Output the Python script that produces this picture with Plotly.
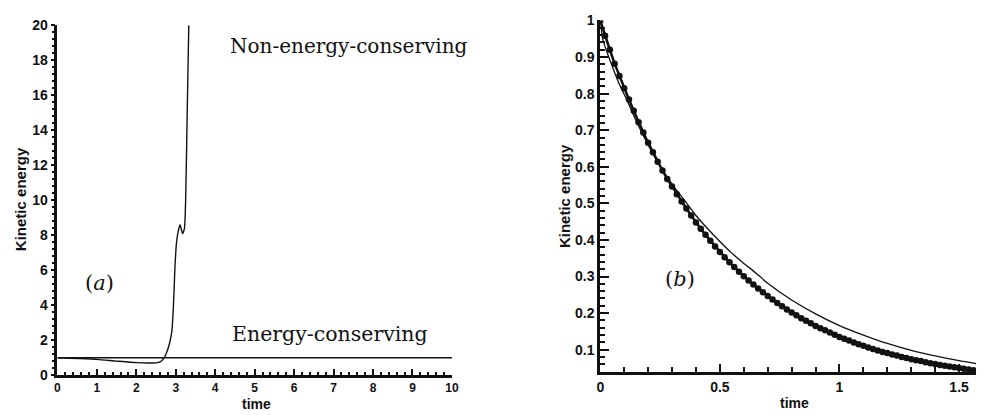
import plotly.graph_objects as go

# ---------------- panel (a): long-time kinetic energy ----------------
t_cons = [0.0, 10.0]
ke_cons = [1.0, 1.0]

t_noncons = [0.0, 0.5, 1.0, 1.5, 2.0, 2.3, 2.5, 2.6, 2.65, 2.7, 2.75, 2.8,
             2.85, 2.9, 2.94, 2.98, 3.02, 3.06, 3.11, 3.17, 3.22, 3.25,
             3.29, 3.33]
ke_noncons = [1.0, 0.96, 0.91, 0.81, 0.72, 0.70, 0.71, 0.76, 0.85, 0.98,
              1.2, 1.5, 1.9, 2.5, 3.9, 6.2, 7.6, 8.2, 8.6, 8.1, 8.4, 10.0,
              15.0, 20.0]

# ---------------- panel (b): decay of kinetic energy ----------------
t_ref = [0.0, 0.01, 0.03, 0.05, 0.08, 0.11, 0.15, 0.2, 0.25, 0.3, 0.35,
         0.4, 0.45, 0.5, 0.55, 0.6, 0.65, 0.7, 0.8, 0.9, 1.0, 1.1, 1.2,
         1.3, 1.4, 1.5, 1.5708]
ke_ref = [1.0, 0.95, 0.91, 0.875, 0.825, 0.785, 0.725, 0.66, 0.602, 0.553,
          0.51, 0.467, 0.43, 0.396, 0.364, 0.336, 0.31, 0.282, 0.236, 0.198,
          0.166, 0.14, 0.117, 0.098, 0.083, 0.07, 0.062]

t_sim = [round(0.02 * i, 2) for i in range(79)]
ke_sim = [1.000, 0.958, 0.920, 0.882, 0.848, 0.815, 0.784, 0.753, 0.722,
          0.694, 0.666, 0.640, 0.614, 0.590, 0.567, 0.546, 0.525, 0.505,
          0.486, 0.467, 0.448, 0.431, 0.414, 0.398, 0.382, 0.367, 0.353,
          0.339, 0.326, 0.313, 0.301, 0.289, 0.278, 0.267, 0.257, 0.247,
          0.237, 0.228, 0.219, 0.210, 0.202, 0.194, 0.186, 0.179, 0.172,
          0.165, 0.159, 0.153, 0.147, 0.141, 0.135, 0.130, 0.125, 0.120,
          0.115, 0.111, 0.106, 0.102, 0.098, 0.094, 0.091, 0.087, 0.084,
          0.080, 0.077, 0.074, 0.071, 0.069, 0.066, 0.063, 0.061, 0.058,
          0.056, 0.054, 0.052, 0.050, 0.048, 0.046, 0.044]

W, H = 985, 415
INK = "#111111"
SANS = "Liberation Sans, Arial, sans-serif"
TICKFONT = dict(family=SANS, size=14, color=INK, weight="bold")
TICKFONT_A = dict(family=SANS, size=12, color=INK, weight="bold")
SERIF = "DejaVu Serif, Liberation Serif, serif"


def px_x(a, b):
    return [a / W, b / W]


def px_y(top, bottom):
    return [(H - bottom) / H, (H - top) / H]


fig = go.Figure()

fig.add_trace(go.Scatter(x=t_cons, y=ke_cons, mode="lines",
                         line=dict(color=INK, width=1.6),
                         xaxis="x", yaxis="y", showlegend=False))
fig.add_trace(go.Scatter(x=t_noncons, y=ke_noncons, mode="lines",
                         line=dict(color=INK, width=1.4, shape="spline",
                                   smoothing=0.6),
                         xaxis="x", yaxis="y", showlegend=False))

fig.add_trace(go.Scatter(x=t_ref, y=ke_ref, mode="lines",
                         line=dict(color=INK, width=1.3, shape="spline",
                                   smoothing=0.5),
                         xaxis="x2", yaxis="y2", showlegend=False))
fig.add_trace(go.Scatter(x=t_sim, y=ke_sim, mode="lines+markers",
                         line=dict(color=INK, width=2.5),
                         marker=dict(color=INK, size=6.5, symbol="circle"),
                         xaxis="x2", yaxis="y2", showlegend=False))

common = dict(showgrid=False, zeroline=False, showline=True,
              linecolor=INK, tickcolor=INK)

fig.update_layout(
    width=W, height=H,
    margin=dict(l=0, r=0, t=0, b=0),
    paper_bgcolor="white", plot_bgcolor="white",
    xaxis=dict(domain=px_x(54, 453), range=[0, 10], tick0=0, dtick=1,
               ticks="inside", ticklen=7, tickwidth=2, linewidth=2.5,
               tickfont=TICKFONT_A,
               minor=dict(ticks="inside", dtick=0.2, ticklen=4,
                          tickwidth=1.5, tickcolor=INK),
               anchor="y", **common),
    yaxis=dict(domain=px_y(18, 382), range=[0, 20], tick0=0, dtick=2,
               ticks="outside", ticklen=4, tickwidth=2, linewidth=2.5,
               tickfont=TICKFONT,
               minor=dict(ticks="outside", dtick=0.4, ticklen=3,
                          tickwidth=1.5, tickcolor=INK),
               anchor="x", **common),
    xaxis2=dict(domain=px_x(603, 983), range=[0, 1.5708], tick0=0,
                dtick=0.5, ticks="inside", ticklen=8, tickwidth=2,
                linewidth=3, tickfont=TICKFONT,
                minor=dict(ticks="inside", dtick=0.1, ticklen=5,
                           tickwidth=1.5, tickcolor=INK),
                anchor="y2", **common),
    yaxis2=dict(domain=px_y(13, 379), range=[0.038, 1.0], tick0=0,
                dtick=0.1, ticks="inside", ticklen=9, tickwidth=2,
                linewidth=3, tickfont=TICKFONT,
                minor=dict(ticks="inside", dtick=0.02, ticklen=5,
                           tickwidth=1.5, tickcolor=INK),
                anchor="x2", **common),
)

label_font = dict(family=SANS, size=15, color=INK, weight="bold")
time_font = dict(family=SANS, size=14, color=INK, weight="bold")
annos = [
    # axis titles
    dict(text="Kinetic energy", x=17 / W, y=(H - 199) / H, textangle=-90,
         font=label_font),
    dict(text="time", x=255 / W, y=0, yanchor="bottom", yshift=-6,
         font=time_font, borderpad=0),
    dict(text="Kinetic energy", x=567 / W, y=(H - 196) / H, textangle=-90,
         font=label_font),
    dict(text="time", x=799 / W, y=0, yanchor="bottom", yshift=-5,
         font=time_font, borderpad=0),
    # in-plot labels
    dict(text="Non-energy-conserving", x=227 / W, y=(H - 40) / H,
         xanchor="left", font=dict(family=SERIF, size=20, color=INK)),
    dict(text="Energy-conserving", x=229 / W, y=(H - 339) / H,
         xanchor="left", font=dict(family=SERIF, size=20.5, color=INK)),
    dict(text="(<i>a</i>)", x=97 / W, y=(H - 286) / H,
         font=dict(family=SERIF, size=21, color=INK)),
    dict(text="(<i>b</i>)", x=684 / W, y=(H - 282) / H,
         font=dict(family=SERIF, size=21, color=INK)),
]
for a in annos:
    a.setdefault("xanchor", "center")
    a.setdefault("yanchor", "middle")
    a.update(xref="paper", yref="paper", showarrow=False)
fig.update_layout(annotations=annos)

fig.write_html("out.html")
